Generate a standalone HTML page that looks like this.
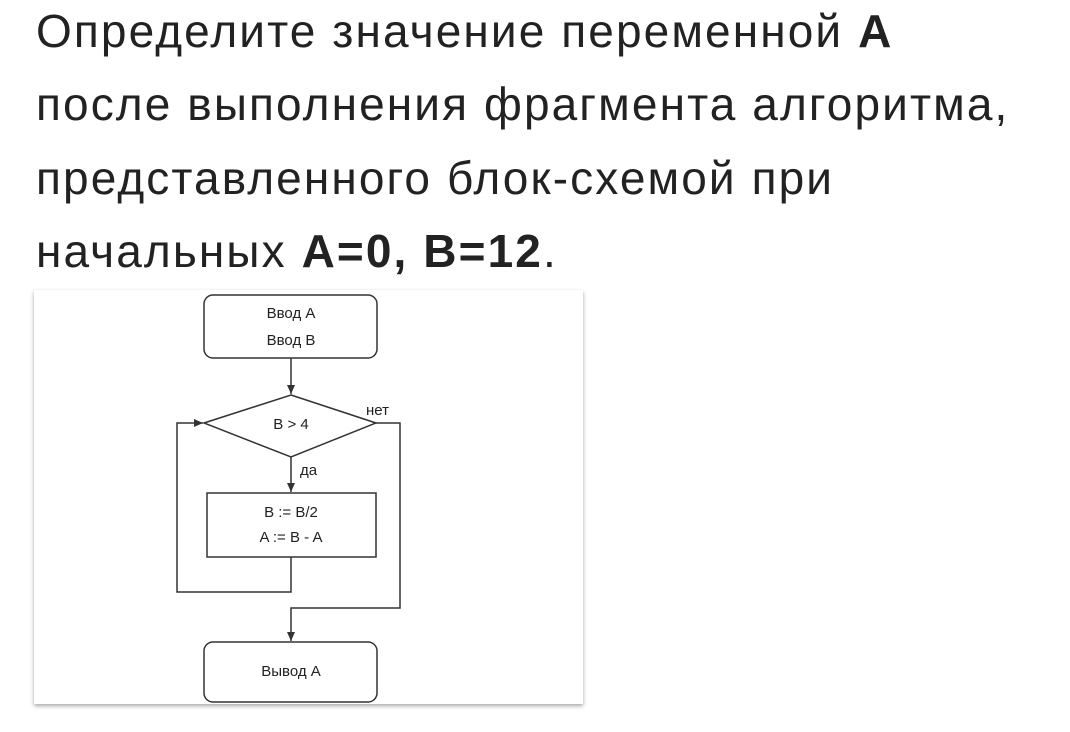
<!DOCTYPE html>
<html><head><meta charset="utf-8"><style>
body{margin:0;width:1070px;height:732px;background:#fff;overflow:hidden;font-family:"Liberation Sans","DejaVu Sans",sans-serif;}
.t{position:absolute;left:36px;font-size:46px;letter-spacing:2.1px;color:#222;white-space:nowrap;line-height:1;}
.panel{position:absolute;left:34px;top:290px;width:549px;height:414px;background:#fff;box-shadow:0 2px 4px rgba(0,0,0,.35);}
svg text{font-family:"Liberation Sans",sans-serif;font-size:15px;fill:#222;}
</style></head><body>
<div class="t" style="top:8px">Определите значение переменной <b>A</b></div>
<div class="t" style="top:81px">после выполнения фрагмента алгоритма,</div>
<div class="t" style="top:155px">представленного блок-схемой при</div>
<div class="t" style="top:228px">начальных <b>A=0, B=12</b>.</div>
<div class="panel"></div>
<svg width="1070" height="732" style="position:absolute;left:0;top:0" fill="none" stroke="#333" stroke-width="1.5">
<defs><marker id="a" markerWidth="10" markerHeight="10" refX="9" refY="5" orient="auto" markerUnits="userSpaceOnUse"><path d="M0,1 L9,5 L0,9 z" fill="#333" stroke="none"/></marker></defs>
<rect x="204" y="295" width="173" height="63" rx="9"/>
<polygon points="291,395 376,423 291,457 204,423"/>
<rect x="207" y="493" width="169" height="64"/>
<rect x="204" y="642" width="173" height="60" rx="9"/>
<line x1="291" y1="358" x2="291" y2="394" marker-end="url(#a)"/>
<line x1="291" y1="457" x2="291" y2="492" marker-end="url(#a)"/>
<polyline points="291,557 291,592 177,592 177,423 203,423" marker-end="url(#a)"/>
<polyline points="376,423 400,423 400,608 291,608 291,641" marker-end="url(#a)"/>
<g stroke="none">
<text x="291" y="318" text-anchor="middle">Ввод A</text>
<text x="291" y="345" text-anchor="middle">Ввод B</text>
<text x="291" y="429" text-anchor="middle">B &gt; 4</text>
<text x="366" y="415">нет</text>
<text x="300" y="475">да</text>
<text x="291" y="517" text-anchor="middle">B := B/2</text>
<text x="291" y="542" text-anchor="middle">A := B - A</text>
<text x="291" y="676" text-anchor="middle">Вывод A</text>
</g>
</svg>
</body></html>
